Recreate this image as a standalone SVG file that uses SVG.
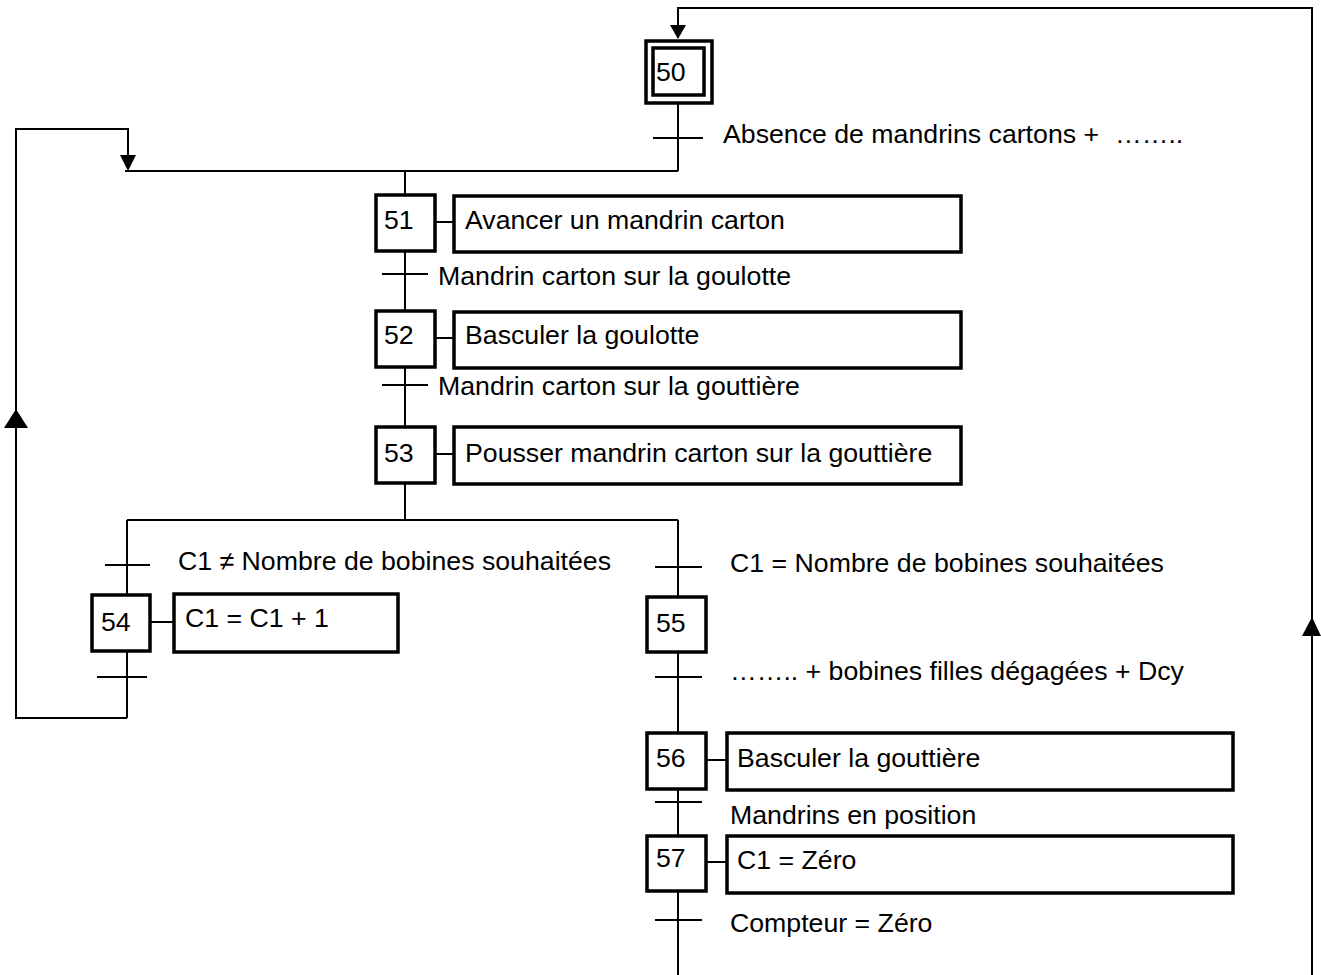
<svg xmlns="http://www.w3.org/2000/svg" width="1321" height="975" viewBox="0 0 1321 975">
<style>
  .bg{fill:#fff}
  .step{fill:#fff;stroke:#000;stroke-width:3.5}
  .act{fill:#fff;stroke:#000;stroke-width:3.5}
  .ln{fill:none;stroke:#000;stroke-width:2}
  .tr{stroke:#000;stroke-width:2}
  .arrow{fill:#000}
  text{font-family:"Liberation Sans",Arial,sans-serif;font-size:26.7px;fill:#000}
</style>
<rect class="bg" x="0" y="0" width="1321" height="975"/>
<g id="connectors">
  <path class="ln" d="M1312,975 V8 H678 V38"/>
  <path class="ln" d="M678,103 V171 M125,171 H678 M405,171 V195"/>
  <path class="ln" d="M127,718 H16 V129 H128 V158"/>
  <path class="ln" d="M405,251 V311 M405,367 V427 M405,483 V520 M127,520 H678"/>
  <path class="ln" d="M127,520 V595 M127,651 V718"/>
  <path class="ln" d="M678,520 V597 M678,652 V733 M678,789 V836 M678,891 V975"/>
  <path class="ln" d="M435,222 H454 M435,338 H454 M435,454 H454 M150,622 H174 M706,760 H727 M706,862 H727"/>
  <polygon class="arrow" points="670,25 686,25 678,39"/>
  <polygon class="arrow" points="120,155 136,155 128,171"/>
  <polygon class="arrow" points="4,428 28,428 16,409"/>
  <polygon class="arrow" points="1302,636 1321,636 1312,617"/>
</g>
<g id="transitions">
  <line class="tr" x1="653" y1="138" x2="703" y2="138"/>
  <text x="723" y="143">Absence de mandrins cartons +<tspan x="1115">……..</tspan></text>
  <line class="tr" x1="382" y1="274" x2="428" y2="274"/>
  <text x="438" y="285">Mandrin carton sur la goulotte</text>
  <line class="tr" x1="382" y1="385" x2="428" y2="385"/>
  <text x="438" y="395">Mandrin carton sur la gouttière</text>
  <line class="tr" x1="105" y1="565" x2="150" y2="565"/>
  <text x="178" y="570">C1 ≠ Nombre de bobines souhaitées</text>
  <line class="tr" x1="97" y1="677" x2="147" y2="677"/>
  <line class="tr" x1="655" y1="567" x2="702" y2="567"/>
  <text x="730" y="572">C1 = Nombre de bobines souhaitées</text>
  <line class="tr" x1="655" y1="677" x2="702" y2="677"/>
  <text x="730" y="680">…….. + bobines filles dégagées + Dcy</text>
  <line class="tr" x1="655" y1="802" x2="702" y2="802"/>
  <text x="730" y="824">Mandrins en position</text>
  <line class="tr" x1="655" y1="920" x2="702" y2="920"/>
  <text x="730" y="932">Compteur = Zéro</text>
</g>
<g id="step50">
  <rect class="step" x="646" y="41" width="66" height="62"/>
  <rect class="step" x="653" y="48" width="51" height="47" stroke-width="3"/>
  <text x="656" y="81">50</text>
</g>
<g id="step51">
  <rect class="step" x="376" y="195" width="59" height="56"/>
  <text x="384" y="229">51</text>
  <rect class="act" x="454" y="196" width="507" height="56"/>
  <text x="465" y="229">Avancer un mandrin carton</text>
</g>
<g id="step52">
  <rect class="step" x="376" y="311" width="59" height="56"/>
  <text x="384" y="344">52</text>
  <rect class="act" x="454" y="312" width="507" height="56"/>
  <text x="465" y="344">Basculer la goulotte</text>
</g>
<g id="step53">
  <rect class="step" x="376" y="427" width="59" height="56"/>
  <text x="384" y="462">53</text>
  <rect class="act" x="454" y="427" width="507" height="57"/>
  <text x="465" y="462">Pousser mandrin carton sur la gouttière</text>
</g>
<g id="step54">
  <rect class="step" x="92" y="595" width="58" height="56"/>
  <text x="101" y="631">54</text>
  <rect class="act" x="174" y="594" width="224" height="58"/>
  <text x="185" y="627">C1 = C1 + 1</text>
</g>
<g id="step55">
  <rect class="step" x="647" y="597" width="59" height="55"/>
  <text x="656" y="632">55</text>
</g>
<g id="step56">
  <rect class="step" x="647" y="733" width="59" height="56"/>
  <text x="656" y="767">56</text>
  <rect class="act" x="727" y="733" width="506" height="57"/>
  <text x="737" y="767">Basculer la gouttière</text>
</g>
<g id="step57">
  <rect class="step" x="647" y="836" width="59" height="55"/>
  <text x="656" y="867">57</text>
  <rect class="act" x="727" y="836" width="506" height="57"/>
  <text x="737" y="869">C1 = Zéro</text>
</g>
</svg>
